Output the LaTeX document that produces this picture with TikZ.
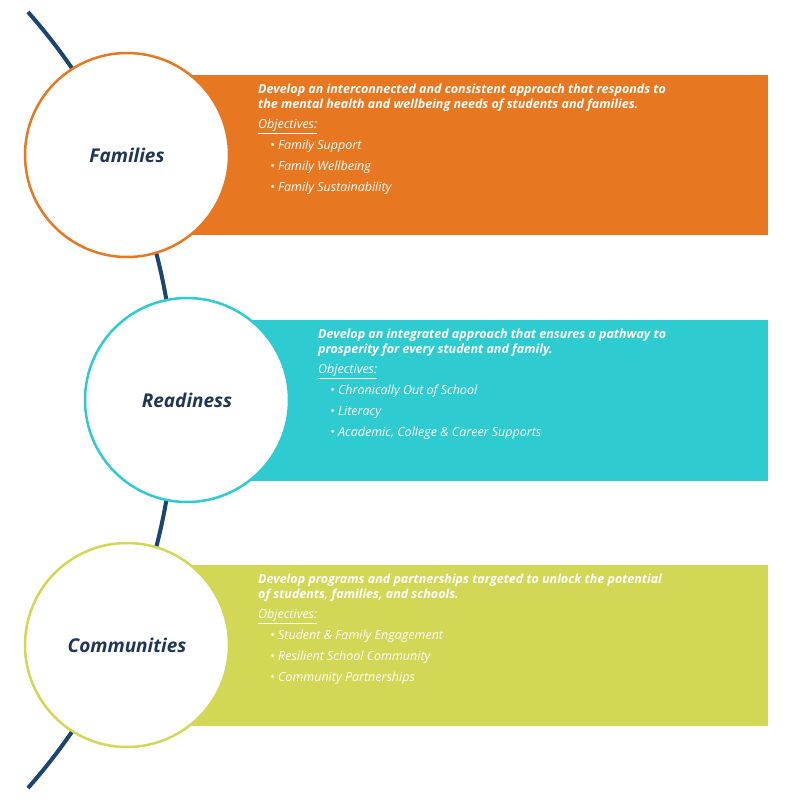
\documentclass[tikz,border=0pt]{standalone}
\usepackage{fontspec}
\setmainfont{Open Sans}
\newcommand{\myul}[1]{\underline{#1}}
\definecolor{corange}{HTML}{E87722}
\definecolor{cteal}{HTML}{2ECBD1}
\definecolor{cgreen}{HTML}{D2D755}
\definecolor{cblue}{HTML}{1B4471}
\definecolor{cnavy}{HTML}{1F3656}
\begin{document}
\begin{tikzpicture}[x=1pt,y=-1pt,
  ring/.style={circle,draw,line width=2.5pt,fill=white,minimum size=204pt,inner sep=0pt,
    font=\fontsize{19}{22}\selectfont\bfseries\itshape,text=cnavy},
  txt/.style={anchor=north west,align=left,inner sep=0pt,text=white,
    font=\fontsize{12.5}{20}\selectfont\itshape},
]
\useasboundingbox (0,0) rectangle (786,803);
\draw[cblue,line width=4pt] ([shift={(41.5:585.6)}] -410.6,400) arc[start angle=41.5,end angle=-41.5,radius=585.6];
\fill[corange] (190,75) rectangle (768,235);
\fill[cteal] (250,320) rectangle (768,481);
\fill[cgreen] (190,565) rectangle (768,726);
\node[ring,draw=corange] (f) at (127,155) {Families};
\node[ring,draw=cteal] (r) at (187,400) {Readiness};
\node[ring,draw=cgreen] (c) at (127,645) {Communities};
\node[txt] (tf) at (258,84) {\textbf{Develop an interconnected and consistent approach that responds to}\\[-5pt]
\textbf{the mental health and wellbeing needs of students and families.}\\[0pt]
\myul{Objectives:}\\[1pt]
\hspace{12pt}\textbullet\ Family Support\\[1pt]
\hspace{12pt}\textbullet\ Family Wellbeing\\[1pt]
\hspace{12pt}\textbullet\ Family Sustainability};
\node[txt] (tr) at (318,329) {\textbf{Develop an integrated approach that ensures a pathway to}\\[-5pt]
\textbf{prosperity for every student and family.}\\[0pt]
\myul{Objectives:}\\[1pt]
\hspace{12pt}\textbullet\ Chronically Out of School\\[1pt]
\hspace{12pt}\textbullet\ Literacy\\[1pt]
\hspace{12pt}\textbullet\ Academic, College \& Career Supports};
\node[txt] (tc) at (258,574) {\textbf{Develop programs and partnerships targeted to unlock the potential}\\[-5pt]
\textbf{of students, families, and schools.}\\[0pt]
\myul{Objectives:}\\[1pt]
\hspace{12pt}\textbullet\ Student \& Family Engagement\\[1pt]
\hspace{12pt}\textbullet\ Resilient School Community\\[1pt]
\hspace{12pt}\textbullet\ Community Partnerships};
\end{tikzpicture}
\end{document}
